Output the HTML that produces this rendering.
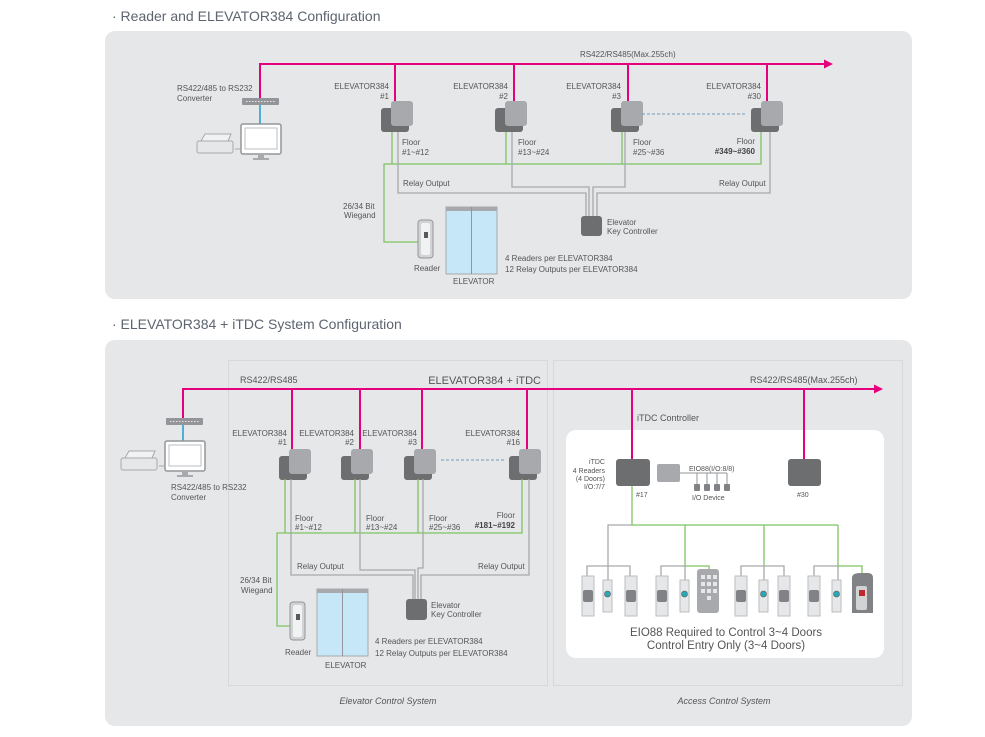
<!DOCTYPE html>
<html><head><meta charset="utf-8"><style>
html,body{margin:0;padding:0;background:#fff;width:985px;height:737px;overflow:hidden}
svg{display:block;font-family:"Liberation Sans",sans-serif}
.t{font-size:8px;fill:#555}
.pk{stroke:#e6007e;stroke-width:2;fill:none}
.gr{stroke:#7fc463;stroke-width:1.3;fill:none}
.gy{stroke:#a7a9ac;stroke-width:1.3;fill:none}
</style></head><body>
<svg width="985" height="737" viewBox="0 0 985 737">
<defs>
<g id="dev"><rect x="0" y="7" width="28" height="24" rx="3" fill="#6d6e70"/><rect x="10" y="0" width="22" height="25" rx="3" fill="#a7a9ac"/></g>
<g id="pc"><rect x="0" y="0" width="40" height="30" rx="2" fill="#fff" stroke="#939598" stroke-width="1.5"/><rect x="4" y="4" width="32" height="21" fill="#fff" stroke="#bcbec0"/><rect x="17" y="30" width="6" height="4" fill="#a7a9ac"/><rect x="12" y="34" width="16" height="2" fill="#a7a9ac"/>
<line x1="-6" y1="25" x2="0" y2="25" stroke="#a7a9ac"/><rect x="-44" y="17" width="36" height="12" rx="2" fill="#e6e7e8" stroke="#a7a9ac"/><path d="M-40 17 l4 -7 h26 l-3 7z" fill="#f1f2f2" stroke="#a7a9ac"/></g>
<g id="hub"><rect x="0" y="0" width="37" height="7" rx="1" fill="#939598"/><line x1="4" y1="3.5" x2="33" y2="3.5" stroke="#e6e7e8" stroke-dasharray="1.5 1.5"/></g>
<g id="rdr"><rect x="0" y="0" width="15" height="38" rx="3" fill="#d1d3d4" stroke="#939598"/><rect x="3" y="3" width="9" height="32" rx="2" fill="#f1f2f2"/><rect x="6" y="12" width="4" height="6" fill="#58595b"/></g>
<g id="elev"><rect x="0" y="0" width="51" height="67" fill="#c5e7f7" stroke="#a7a9ac"/><rect x="0" y="0" width="51" height="4" fill="#a7a9ac"/><line x1="25.5" y1="0" x2="25.5" y2="67" stroke="#939598"/></g>
<g id="plate"><rect x="0" y="0" width="12" height="40" fill="#e6e7e8" stroke="#bcbec0"/><rect x="1" y="14" width="10" height="12" rx="2" fill="#808285"/></g>
<g id="btn"><rect x="0" y="0" width="9" height="32" fill="#e6e7e8" stroke="#bcbec0"/><circle cx="4.5" cy="14" r="3" fill="#2aa8b6" stroke="#58595b" stroke-width=".6"/></g>
</defs>

<text x="112" y="21" style="font-size:14px;fill:#5d6470">· Reader and ELEVATOR384 Configuration</text>
<rect x="105" y="31" width="807" height="268" rx="10" fill="#e6e7e8"/>
<text x="112" y="329" style="font-size:14px;fill:#5d6470">· ELEVATOR384 + iTDC System Configuration</text>
<rect x="105" y="340" width="807" height="386" rx="10" fill="#e6e7e8"/>

<!-- PANEL 1 -->
<polyline class="pk" points="260,98 260,64 825,64"/><path d="M833 64 l-9 -4.5 v9z" fill="#e6007e"/>
<text class="t" x="580" y="57">RS422/RS485(Max.255ch)</text>
<use href="#hub" x="242" y="98"/><line x1="260" y1="105" x2="260" y2="124" stroke="#1c9ad6" stroke-width="1.5"/>
<use href="#pc" x="241" y="124"/>
<text class="t" x="177" y="91">RS422/485 to RS232</text><text class="t" x="177" y="101">Converter</text>
<g class="pk"><line x1="395" y1="64" x2="395" y2="102"/><line x1="514" y1="64" x2="514" y2="102"/><line x1="628" y1="64" x2="628" y2="102"/><line x1="767" y1="64" x2="767" y2="102"/></g>
<use href="#dev" x="381" y="101"/><use href="#dev" x="495" y="101"/><use href="#dev" x="611" y="101"/><use href="#dev" x="751" y="101"/>
<line x1="642" y1="114" x2="745" y2="114" stroke="#6d9bbd" stroke-dasharray="3 2"/>
<g class="t" text-anchor="end"><text x="389" y="89">ELEVATOR384</text><text x="389" y="99">#1</text>
<text x="508" y="89">ELEVATOR384</text><text x="508" y="99">#2</text>
<text x="621" y="89">ELEVATOR384</text><text x="621" y="99">#3</text>
<text x="761" y="89">ELEVATOR384</text><text x="761" y="99">#30</text>
<text x="755" y="144">Floor</text><text x="755" y="154" style="font-weight:bold;fill:#444">#349~#360</text></g>
<polyline class="gr" points="392,132 392,164"/><polyline class="gr" points="506,132 506,164"/><polyline class="gr" points="622,132 622,164"/>
<polyline class="gr" points="761,132 761,164 384,164 384,242 418,242"/>
<polyline class="gy" points="398,132 398,193 586,193 586,218"/>
<polyline class="gy" points="512,132 512,187 589,187 589,218"/>
<polyline class="gy" points="625,132 625,187 593,187 593,218"/>
<polyline class="gy" points="770,132 770,193 597,193 597,218"/>
<rect x="581" y="216" width="21" height="20" rx="3" fill="#6d6e70"/>
<g class="t"><text x="402" y="145">Floor</text><text x="402" y="155">#1~#12</text>
<text x="518" y="145">Floor</text><text x="518" y="155">#13~#24</text>
<text x="633" y="145">Floor</text><text x="633" y="155">#25~#36</text>
<text x="403" y="186">Relay Output</text><text x="719" y="186">Relay Output</text>
<text x="607" y="225">Elevator</text><text x="607" y="234">Key Controller</text>
<text x="343" y="209">26/34 Bit</text><text x="344" y="218">Wiegand</text>
<text x="414" y="271">Reader</text><text x="453" y="284">ELEVATOR</text>
<text x="505" y="261">4 Readers per ELEVATOR384</text><text x="505" y="272">12 Relay Outputs per ELEVATOR384</text></g>
<use href="#rdr" x="418" y="220"/><use href="#elev" x="446" y="207"/>

<!-- PANEL 2 -->
<rect x="228.5" y="360.5" width="319" height="325" fill="none" stroke="#c8c9cb" stroke-dasharray="1 1"/>
<rect x="553.5" y="360.5" width="349" height="325" fill="none" stroke="#c8c9cb" stroke-dasharray="1 1"/>
<text x="388" y="704" text-anchor="middle" style="font-size:9px;font-style:italic;fill:#555">Elevator Control System</text>
<text x="724" y="704" text-anchor="middle" style="font-size:9px;font-style:italic;fill:#555">Access Control System</text>
<polyline class="pk" points="183,418 183,389 875,389"/><path d="M883 389 l-9 -4.5 v9z" fill="#e6007e"/>
<text class="t" x="240" y="383" style="font-size:9px">RS422/RS485</text>
<text x="541" y="384" text-anchor="end" style="font-size:11px;fill:#555">ELEVATOR384 + iTDC</text>
<text class="t" x="750" y="383" style="font-size:9px">RS422/RS485(Max.255ch)</text>
<use href="#hub" x="166" y="418"/><line x1="183" y1="425" x2="183" y2="441" stroke="#1c9ad6" stroke-width="1.5"/>
<use href="#pc" x="165" y="441"/>
<text class="t" x="171" y="490">RS422/485 to RS232</text><text class="t" x="171" y="500">Converter</text>
<g class="pk"><line x1="292" y1="389" x2="292" y2="450"/><line x1="360" y1="389" x2="360" y2="450"/><line x1="422" y1="389" x2="422" y2="450"/><line x1="527" y1="389" x2="527" y2="450"/></g>
<use href="#dev" x="279" y="449"/><use href="#dev" x="341" y="449"/><use href="#dev" x="404" y="449"/><use href="#dev" x="509" y="449"/>
<line x1="441" y1="460" x2="505" y2="460" stroke="#6d9bbd" stroke-dasharray="3 2"/>
<g class="t" text-anchor="end"><text x="287" y="436">ELEVATOR384</text><text x="287" y="445">#1</text>
<text x="354" y="436">ELEVATOR384</text><text x="354" y="445">#2</text>
<text x="417" y="436">ELEVATOR384</text><text x="417" y="445">#3</text>
<text x="520" y="436">ELEVATOR384</text><text x="520" y="445">#16</text>
<text x="515" y="518">Floor</text><text x="515" y="528" style="font-weight:bold;fill:#444">#181~#192</text></g>
<polyline class="gr" points="285,479 285,533"/><polyline class="gr" points="355,479 355,533"/><polyline class="gr" points="418,479 418,533"/>
<polyline class="gr" points="522,479 522,533 277,533 277,626 291,626"/>
<polyline class="gy" points="291,479 291,575 413,575 413,600"/>
<polyline class="gy" points="360,479 360,570 415,570 415,600"/>
<polyline class="gy" points="423,479 423,568 418,568 418,600"/>
<polyline class="gy" points="529,479 529,575 421,575 421,600"/>
<rect x="406" y="599" width="21" height="21" rx="3" fill="#6d6e70"/>
<g class="t"><text x="295" y="521">Floor</text><text x="295" y="530">#1~#12</text>
<text x="366" y="521">Floor</text><text x="366" y="530">#13~#24</text>
<text x="429" y="521">Floor</text><text x="429" y="530">#25~#36</text>
<text x="297" y="569">Relay Output</text><text x="478" y="569">Relay Output</text>
<text x="431" y="608">Elevator</text><text x="431" y="617">Key Controller</text>
<text x="240" y="583">26/34 Bit</text><text x="241" y="593">Wiegand</text>
<text x="285" y="655">Reader</text><text x="325" y="668">ELEVATOR</text>
<text x="375" y="644">4 Readers per ELEVATOR384</text><text x="375" y="656">12 Relay Outputs per ELEVATOR384</text></g>
<use href="#rdr" x="290" y="602"/><use href="#elev" x="317" y="589"/>

<text x="637" y="421" style="font-size:9px;fill:#555">iTDC Controller</text>
<rect x="566" y="430" width="318" height="228" rx="10" fill="#fff"/>
<line class="pk" x1="632" y1="389" x2="632" y2="460"/><line class="pk" x1="804" y1="389" x2="804" y2="460"/>
<rect x="616" y="459" width="34" height="27" rx="3" fill="#6d6e70"/>
<rect x="788" y="459" width="33" height="27" rx="3" fill="#6d6e70"/>
<rect x="657" y="464" width="23" height="18" rx="2" fill="#a7a9ac"/>
<line x1="680" y1="473" x2="727" y2="473" stroke="#939598"/>
<g fill="#808285"><rect x="694" y="484" width="6" height="7" rx="1"/><rect x="704" y="484" width="6" height="7" rx="1"/><rect x="714" y="484" width="6" height="7" rx="1"/><rect x="724" y="484" width="6" height="7" rx="1"/></g>
<path d="M697 484v-11M707 484v-11M717 484v-11M727 484v-11" stroke="#939598"/>
<g class="t" style="font-size:7px"><text x="689" y="471">EIO88(I/O:8/8)</text><text x="692" y="500">I/O Device</text>
<text x="636" y="497">#17</text><text x="797" y="497">#30</text>
<g text-anchor="end"><text x="605" y="464">iTDC</text><text x="605" y="473">4 Readers</text><text x="605" y="481">(4 Doors)</text><text x="605" y="489">I/O:7/7</text></g></g>
<polyline class="gy" points="632,525 608,525 608,566"/>
<polyline class="gr" points="632,486 632,525 838,525"/>
<line class="gr" x1="685" y1="525" x2="685" y2="566"/><line class="gr" x1="764" y1="525" x2="764" y2="566"/><line class="gr" x1="838" y1="525" x2="838" y2="566"/>
<!-- door groups -->
<path class="gy" d="M587 578v-12h43v12M608 566v14"/>
<use href="#plate" x="582" y="576"/><use href="#btn" x="603" y="580"/><use href="#plate" x="625" y="576"/>
<path class="gy" d="M661 578v-12h24v14"/><path class="gr" d="M685 566h24v4"/>
<use href="#plate" x="656" y="576"/><use href="#btn" x="680" y="580"/>
<rect x="697" y="569" width="22" height="44" rx="3" fill="#a7a9ac"/><g fill="#e6e7e8"><rect x="701" y="575" width="4" height="4"/><rect x="707" y="575" width="4" height="4"/><rect x="713" y="575" width="4" height="4"/><rect x="701" y="582" width="4" height="4"/><rect x="707" y="582" width="4" height="4"/><rect x="713" y="582" width="4" height="4"/><rect x="701" y="589" width="4" height="4"/><rect x="707" y="589" width="4" height="4"/><rect x="713" y="589" width="4" height="4"/><rect x="707" y="596" width="4" height="4"/></g>
<path class="gy" d="M741 578v-12h43v12M764 566v14"/>
<use href="#plate" x="735" y="576"/><use href="#btn" x="759" y="580"/><use href="#plate" x="778" y="576"/>
<path class="gy" d="M814 578v-12h24v14"/><path class="gr" d="M838 566h24v8"/>
<use href="#plate" x="808" y="576"/><use href="#btn" x="832" y="580"/>
<path d="M852 578 q0-5 8-5 h8 q5 0 5 5 v35 h-21z" fill="#808285"/><rect x="856" y="586" width="11" height="24" rx="2" fill="#d1d3d4"/><rect x="859" y="590" width="6" height="6" fill="#c1272d"/>
<text x="726" y="636" text-anchor="middle" style="font-size:11.5px;fill:#555">EIO88 Required to Control 3~4 Doors</text>
<text x="726" y="649" text-anchor="middle" style="font-size:11.5px;fill:#555">Control Entry Only (3~4 Doors)</text>
</svg>
</body></html>
